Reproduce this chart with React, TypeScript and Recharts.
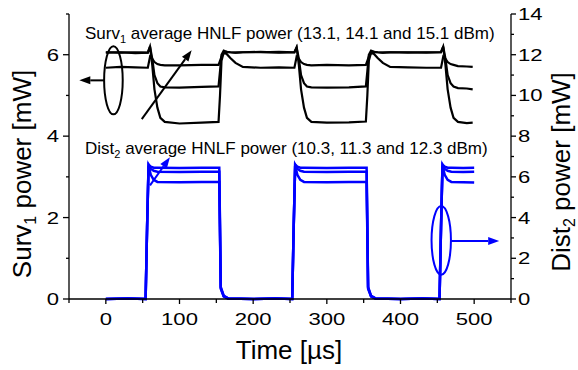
import React from 'react';
import { LineChart, Line, XAxis, YAxis, ReferenceLine, ReferenceDot } from 'recharts';

// time axis ticks [µs]
const timeTicks = [-50, 0, 50, 100, 150, 200, 250, 300, 350, 400, 450, 500, 550];
const survTicks = [0, 1, 2, 3, 4, 5, 6, 7];
const distTicks = [0, 1, 2, 3, 4, 5, 6, 7, 8, 9, 10, 11, 12, 13, 14];

// Surv1 traces (left axis, mW)
const survTime = [
  0, 20, 40, 57, 60, 63, 66, 70, 74, 80, 100, 130, 153, 155, 157, 160, 164, 169, 176, 186,
  210, 235, 256, 259, 262, 265, 269, 273, 279, 300, 330, 353, 355, 357, 360, 364, 369, 376, 386,
  410, 435, 455, 458, 461, 464, 468, 472, 478, 490, 498,
];
const survLow = [
  6.05, 6.06, 6.04, 6.05, 6.2, 5.75, 5.15, 4.7, 4.45, 4.35, 4.31, 4.33,
  4.35, 5.0, 5.85, 6.05, 6.07, 6.06, 6.05, 6.06, 6.07, 6.05,
  6.06, 6.18, 5.75, 5.15, 4.7, 4.45, 4.35, 4.33, 4.34,
  4.36, 5.0, 5.85, 6.05, 6.07, 6.06, 6.05, 6.06, 6.06, 6.05,
  6.06, 6.2, 5.75, 5.15, 4.7, 4.45, 4.35, 4.32, 4.33,
];
const survMid = [
  6.06, 6.05, 6.06, 6.05, 6.2, 5.9, 5.5, 5.3, 5.22, 5.2, 5.19, 5.21,
  5.22, 5.6, 6.0, 6.1, 6.07, 6.06, 6.05, 6.06, 6.06, 6.07,
  6.06, 6.18, 5.9, 5.5, 5.3, 5.22, 5.2, 5.19, 5.2,
  5.22, 5.6, 6.0, 6.1, 6.07, 6.06, 6.05, 6.06, 6.05, 6.06,
  6.06, 6.2, 5.9, 5.5, 5.3, 5.22, 5.18, 5.17, 5.15,
];
const survHigh = [
  5.68, 5.7, 5.69, 5.68, 5.95, 5.9, 5.82, 5.77, 5.75, 5.74, 5.74, 5.75,
  5.75, 5.85, 5.95, 6.05, 6.02, 5.92, 5.8, 5.7, 5.68, 5.69,
  5.68, 5.95, 5.9, 5.82, 5.77, 5.75, 5.74, 5.75, 5.74,
  5.75, 5.85, 5.95, 6.05, 6.02, 5.92, 5.8, 5.7, 5.69, 5.68,
  5.68, 5.95, 5.9, 5.82, 5.77, 5.75, 5.72, 5.71, 5.7,
];

// Dist2 traces (right axis, mW)
const distTime = [
  0, 30, 54, 56, 58, 61, 65, 70, 100, 130, 154, 156, 160, 166, 200, 230,
  253, 255, 257, 260, 264, 269, 300, 330, 354, 356, 360, 366, 400, 430,
  453, 455, 457, 460, 464, 469, 485, 500,
];
const distHigh = [
  0, 0.02, 0, 3.5, 6.6, 6.5, 6.45, 6.45, 6.44, 6.45, 6.45, 0.6, 0.15, 0.03, 0, 0.02,
  0, 3.5, 6.6, 6.5, 6.45, 6.45, 6.44, 6.45, 6.45, 0.6, 0.15, 0.03, 0, 0.02,
  0, 3.5, 6.6, 6.5, 6.45, 6.45, 6.44, 6.45,
];
const distMid = [
  0, 0.02, 0, 3.5, 6.6, 6.4, 6.3, 6.25, 6.24, 6.25, 6.25, 0.55, 0.15, 0.03, 0, 0.02,
  0, 3.5, 6.6, 6.4, 6.3, 6.25, 6.24, 6.25, 6.25, 0.55, 0.15, 0.03, 0, 0.02,
  0, 3.5, 6.6, 6.4, 6.3, 6.25, 6.24, 6.25,
];
const distLow = [
  0, 0.02, 0, 3.5, 6.55, 6.1, 5.85, 5.75, 5.74, 5.75, 5.75, 0.5, 0.12, 0.03, 0, 0.02,
  0, 3.5, 6.55, 6.1, 5.85, 5.75, 5.74, 5.75, 5.75, 0.5, 0.12, 0.03, 0, 0.02,
  0, 3.5, 6.55, 6.1, 5.85, 5.75, 5.74, 5.72,
];

const toPoints = (t: number[], v: number[]) => t.map((x, i) => ({ t: x, v: v[i] }));

const FONT = '"Liberation Sans", Arial, sans-serif';
const TICK_FS = 17;
const SX = 1.3;

const BottomTick = (p: any) => {
  const { x, y, payload } = p;
  const v = payload.value;
  return (
    <g>
      <line x1={x} x2={x} y1={y} y2={y + (v % 100 === 0 ? 5 : 4)} stroke="#000" strokeWidth={1.3} />
      {v % 100 === 0 && v >= 0 && v <= 500 && (
        <text transform={`translate(${x},${y + 26}) scale(${SX},1)`} textAnchor="middle" fontSize={TICK_FS} fontFamily={FONT} fill="#000">
          {v}
        </text>
      )}
    </g>
  );
};

const TopTick = (p: any) => {
  const { x, y } = p;
  return <line x1={x} x2={x} y1={y} y2={y + 5} stroke="#000" strokeWidth={1.3} />;
};

const LeftTick = (p: any) => {
  const { x, y, payload } = p;
  const major = payload.value % 2 === 0;
  return (
    <g>
      <line x1={x} x2={x - (major ? 6 : 3)} y1={y} y2={y} stroke="#000" strokeWidth={1.3} />
      {major && (
        <text transform={`translate(${x - 10},${y + 6}) scale(${SX},1)`} textAnchor="end" fontSize={TICK_FS} fontFamily={FONT} fill="#000">
          {payload.value}
        </text>
      )}
    </g>
  );
};

const RightTick = (p: any) => {
  const { x, y, payload } = p;
  const major = payload.value % 2 === 0;
  return (
    <g>
      <line x1={x} x2={x + (major ? 5 : 3)} y1={y} y2={y} stroke="#000" strokeWidth={1.3} />
      {major && (
        <text transform={`translate(${x + 7},${y + 6}) scale(${SX},1)`} textAnchor="start" fontSize={TICK_FS} fontFamily={FONT} fill="#000">
          {payload.value}
        </text>
      )}
    </g>
  );
};

const Arrow = (p: any) => {
  const { x1, y1, x2, y2, color } = p;
  const a = Math.atan2(y2 - y1, x2 - x1);
  const len = 11;
  const half = 4;
  const bx = x2 - len * Math.cos(a);
  const by = y2 - len * Math.sin(a);
  const pts = [
    `${x2},${y2}`,
    `${bx + half * Math.sin(a)},${by - half * Math.cos(a)}`,
    `${bx - half * Math.sin(a)},${by + half * Math.cos(a)}`,
  ].join(' ');
  return (
    <g>
      <line x1={x1} y1={y1} x2={bx} y2={by} stroke={color} strokeWidth={2} />
      <polygon points={pts} fill={color} />
    </g>
  );
};

const ellipse = (color: string, rx: number, ry: number) => (p: any) => (
  <ellipse cx={p.cx} cy={p.cy} rx={rx} ry={ry} fill="none" stroke={color} strokeWidth={2} />
);

export default function App() {
  return (
    <div style={{ position: 'absolute', left: 0, top: 0, width: 578, height: 370, background: '#fff' }}>
      <LineChart width={578} height={370} margin={{ top: 14, right: 0, bottom: 0, left: 0 }}>
        <XAxis
          xAxisId="bottom"
          dataKey="t"
          type="number"
          domain={[-50, 550]}
          ticks={timeTicks}
          interval={0}
          height={71}
          tickSize={0}
          tickMargin={0}
          tick={<BottomTick />}
          axisLine={{ stroke: '#000', strokeWidth: 1.3 }}
        />
        <XAxis
          xAxisId="top"
          orientation="top"
          dataKey="t"
          type="number"
          domain={[-50, 550]}
          ticks={timeTicks}
          interval={0}
          height={0}
          tickSize={0}
          tickMargin={0}
          tick={<TopTick />}
          axisLine={{ stroke: '#000', strokeWidth: 1.3 }}
        />
        <YAxis
          yAxisId="left"
          type="number"
          domain={[0, 7]}
          ticks={survTicks}
          interval={0}
          width={69}
          tickSize={0}
          tickMargin={0}
          tick={<LeftTick />}
          axisLine={{ stroke: '#000', strokeWidth: 1.3 }}
        />
        <YAxis
          yAxisId="right"
          orientation="right"
          type="number"
          domain={[0, 14]}
          ticks={distTicks}
          interval={0}
          width={67}
          tickSize={0}
          tickMargin={0}
          tick={<RightTick />}
          axisLine={{ stroke: '#000', strokeWidth: 1.3 }}
        />
        <Line xAxisId="bottom" yAxisId="right" data={toPoints(distTime, distLow)} dataKey="v" stroke="#0000ff" strokeWidth={2.5} dot={false} isAnimationActive={false} />
        <Line xAxisId="bottom" yAxisId="right" data={toPoints(distTime, distMid)} dataKey="v" stroke="#0000ff" strokeWidth={2.5} dot={false} isAnimationActive={false} />
        <Line xAxisId="bottom" yAxisId="right" data={toPoints(distTime, distHigh)} dataKey="v" stroke="#0000ff" strokeWidth={2.5} dot={false} isAnimationActive={false} />
        <Line xAxisId="bottom" yAxisId="left" data={toPoints(survTime, survLow)} dataKey="v" stroke="#000" strokeWidth={2.2} dot={false} isAnimationActive={false} />
        <Line xAxisId="bottom" yAxisId="left" data={toPoints(survTime, survMid)} dataKey="v" stroke="#000" strokeWidth={2.2} dot={false} isAnimationActive={false} />
        <Line xAxisId="bottom" yAxisId="left" data={toPoints(survTime, survHigh)} dataKey="v" stroke="#000" strokeWidth={2.2} dot={false} isAnimationActive={false} />

        <ReferenceDot xAxisId="bottom" yAxisId="left" x={10.3} y={5.37} shape={ellipse('#000', 9.3, 34)} />
        <ReferenceLine xAxisId="bottom" yAxisId="left" segment={[{ x: -2.3, y: 5.37 }, { x: -36, y: 5.37 }]} shape={(p: any) => <Arrow {...p} color="#000" />} />
        <ReferenceLine xAxisId="bottom" yAxisId="left" segment={[{ x: 48.8, y: 4.42 }, { x: 116.5, y: 6.11 }]} shape={(p: any) => <Arrow {...p} color="#000" />} />
        <ReferenceLine xAxisId="bottom" yAxisId="right" segment={[{ x: 60, y: 5.58 }, { x: 87, y: 6.96 }]} shape={(p: any) => <Arrow {...p} color="#0000ff" />} />
        <ReferenceDot xAxisId="bottom" yAxisId="right" x={455.3} y={2.88} shape={ellipse('#0000ff', 9.7, 34.3)} />
        <ReferenceLine xAxisId="bottom" yAxisId="right" segment={[{ x: 468.3, y: 2.85 }, { x: 534, y: 2.85 }]} shape={(p: any) => <Arrow {...p} color="#0000ff" />} />
      </LineChart>
      <svg width={578} height={370} style={{ position: 'absolute', left: 0, top: 0, pointerEvents: 'none' }} fontFamily={FONT}>
        <text x={85} y={39} fontSize={17} fill="#000">
          Surv<tspan fontSize={11} dy={4}>1</tspan>
          <tspan dy={-4}> average HNLF power (13.1, 14.1 and 15.1 dBm)</tspan>
        </text>
        <text x={85} y={154} fontSize={17} fill="#000">
          Dist<tspan fontSize={11} dy={4}>2</tspan>
          <tspan dy={-4}> average HNLF power (10.3, 11.3 and 12.3 dBm)</tspan>
        </text>
        <text x={289} y={359} fontSize={26} textAnchor="middle" fill="#000">
          Time [µs]
        </text>
        <text transform="translate(31,174) rotate(-90)" fontSize={26} textAnchor="middle" fill="#000">
          Surv<tspan fontSize={16} dy={5}>1</tspan>
          <tspan dy={-5}> power [mW]</tspan>
        </text>
        <text transform="translate(570,172) rotate(-90)" fontSize={26} textAnchor="middle" fill="#000">
          Dist<tspan fontSize={16} dy={5}>2</tspan>
          <tspan dy={-5}> power [mW]</tspan>
        </text>
      </svg>
    </div>
  );
}
